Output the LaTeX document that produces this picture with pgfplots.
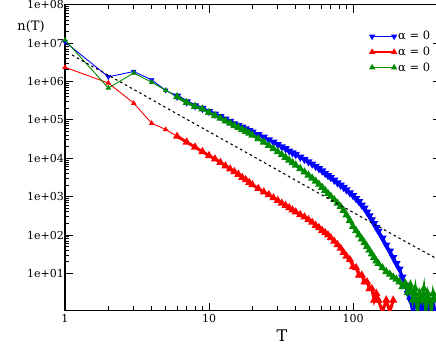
\documentclass[border=0pt]{standalone}
\usepackage{fontspec}
\setmainfont{DejaVu Serif}
\usepackage{pgfplots}
\usepackage{pgfplotstable}
\pgfplotsset{compat=1.18}
\definecolor{grn}{RGB}{0,140,0}

% alpha = 0 runs, blue
\pgfplotstableread{
T n
1 1.07e7
2 1.32e6
3 1.82e6
4 1.10e6
5 5.89e5
6 4.17e5
7 2.95e5
8 2.34e5
9 2.00e5
10 1.66e5
11 1.41e5
12 1.23e5
13 1.05e5
14 9.12e4
15 7.94e4
16 7.24e4
17 6.46e4
18 5.89e4
19 5.25e4
20 4.79e4
22 4.17e4
24 3.55e4
26 3.02e4
28 2.63e4
30 2.29e4
32 2.00e4
34 1.78e4
36 1.55e4
38 1.38e4
40 1.26e4
43 1.07e4
46 9.33e3
49 8.13e3
52 7.08e3
55 6.17e3
58 5.37e3
61 4.68e3
64 4.07e3
67 3.55e3
70 3.16e3
74 2.69e3
78 2.29e3
82 2.00e3
86 1.74e3
90 1.51e3
95 1.26e3
100 1.07e3
105 891
110 741
115 603
120 501
125 398
130 316
135 251
140 200
145 158
150 126
160 83
170 55
180 38
190 26
200 18
210 13
220 8
230 5
240 3
250 2
260 1
270 2
280 1
290 2
300 1
310 2
320 1
330 2
340 1
350 1
360 2
370 1
}\tblue

% red
\pgfplotstableread{
T n
1 2.34e6
2 9.12e5
3 2.72e5
4 8.13e4
5 5.62e4
6 3.72e4
7 2.63e4
8 1.95e4
9 1.48e4
10 1.17e4
11 9.55e3
12 7.76e3
13 6.31e3
14 5.25e3
15 4.47e3
16 3.80e3
17 3.16e3
18 2.75e3
19 2.34e3
20 2.04e3
22 1.62e3
24 1.32e3
26 1.12e3
28 933
30 794
32 676
34 589
36 513
38 447
40 398
43 339
46 295
49 251
52 214
55 178
58 155
61 132
64 115
67 100
70 85
74 69
78 56
82 45
86 35
90 28
95 23
100 15
105 14
110 9
115 9
120 6
125 6
130 4
135 4
140 2
145 3
150 2
160 1
170 2
180 1
190 2
}\tred

% green
\pgfplotstableread{
T n
1 1.20e7
2 6.76e5
3 1.66e6
4 9.55e5
5 5.89e5
6 3.98e5
7 2.82e5
8 2.24e5
9 1.91e5
10 1.55e5
11 1.29e5
12 1.10e5
13 9.33e4
14 8.13e4
15 7.08e4
16 6.31e4
17 5.62e4
18 5.01e4
19 4.47e4
20 3.98e4
22 3.24e4
24 2.63e4
26 2.14e4
28 1.78e4
30 1.48e4
32 1.23e4
34 1.05e4
36 8.91e3
38 7.59e3
40 6.61e3
43 5.37e3
46 4.37e3
49 3.63e3
52 3.02e3
55 2.51e3
58 2.09e3
61 1.74e3
64 1.45e3
67 1.20e3
70 1.02e3
74 832
78 676
82 550
86 437
90 331
95 240
100 166
105 129
110 100
115 79
120 63
125 50
130 40
135 32
140 26
145 21
150 18
160 14
170 11
180 9.5
190 8
200 7
210 6
220 4.5
230 5.6
240 3.2
250 5
260 2
270 4
280 1
290 3
300 2
310 4
320 1
330 3
340 2
350 1
360 3
370 2
}\tgreen

% dashed reference line
\pgfplotstableread{
T n
1.12 4.9e6
1.5 2.63e6
2 1.45e6
3 6.2e5
5 2.1e5
10 4.9e4
20 1.15e4
50 1.66e3
100 390
200 91
408 21
}\tfit

\pgfplotsset{
  early/.style={line width=0.9pt, mark=triangle*, mark size=2.3pt, skip coords between index={6}{500}},
  late/.style={line width=3pt, mark=triangle*, mark size=1.8pt, forget plot, skip coords between index={0}{5}},
}

\begin{document}
\begin{tikzpicture}
\begin{axis}[
  at={(0,0)}, anchor=south west,
  width=376pt, height=305.8pt, scale only axis,
  xmode=log, ymode=log,
  xmin=1, xmax=408, ymin=1.08, ymax=1e8,
  xtick={1,10,100}, xticklabels={1,10,100},
  ytick={10,100,1000,10000,100000,1000000,10000000,100000000},
  yticklabels={1e+01,1e+02,1e+03,1e+04,1e+05,1e+06,1e+07,1e+08},
  tick align=inside,
  major tick length=8pt, minor tick length=4.5pt,
  tick style={black, line width=0.9pt},
  axis line style={line width=1.2pt},
  tick label style={font=\fontsize{11}{13}\selectfont},
  yticklabel style={inner xsep=1pt},
  clip mode=individual,
  xlabel={T},
  xlabel style={font=\fontsize{16}{18}\selectfont, at={(axis description cs:0.577,-0.083)}, anchor=center},
  ylabel={n(T)},
  ylabel style={font=\fontsize{13}{15}\selectfont, rotate=-90, at={(axis description cs:-0.0904,0.930)}, anchor=center},
  legend style={draw=none, fill=none, inner sep=0pt, anchor=west,
    at={(axis description cs:0.811,0.8453)}, row sep=1.5pt,
    font=\fontsize{11.5}{13}\selectfont},
  legend image code/.code={\draw[#1, line width=1.4pt] plot coordinates {(0pt,0pt) (22pt,0pt)};},
  legend cell align=left,
]
\addplot[blue, early, mark options={rotate=180}] table {\tblue};
\addlegendentry{α = 0}
\addplot[red, early] table {\tred};
\addlegendentry{α = 0}
\addplot[grn, early] table {\tgreen};
\addlegendentry{α = 0}
\addplot[blue, late, mark options={rotate=180}] table {\tblue};
\addplot[red, late] table {\tred};
\addplot[grn, late] table {\tgreen};
\addplot[black, line width=1.1pt, dash pattern=on 2.5pt off 3pt, forget plot] table {\tfit};
\end{axis}
\pgfresetboundingbox
\useasboundingbox (-65pt,-45.5pt) rectangle (371pt,310.5pt);
\end{tikzpicture}
\end{document}
